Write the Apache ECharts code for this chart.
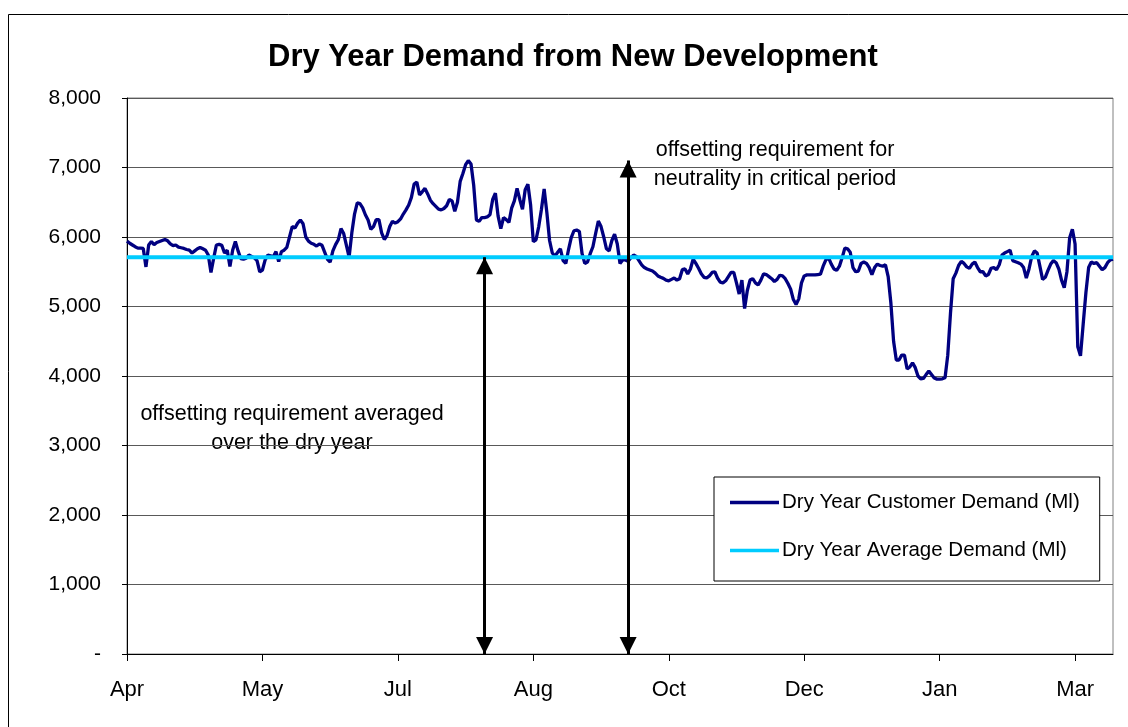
<!DOCTYPE html>
<html>
<head>
<meta charset="utf-8">
<title>Dry Year Demand from New Development</title>
<script src="https://cdn.jsdelivr.net/npm/echarts@6/dist/echarts.min.js"></script>
<style>
  html, body { margin: 0; padding: 0; background: #fff; }
  #myChart { width: 1128px; height: 727px; }
</style>
</head>
<body>
<div id="myChart"></div>
<script>
// x axis labels, one every 50 days counted from 1 April
const tickLabels = ['Apr', 'May', 'Jul', 'Aug', 'Oct', 'Dec', 'Jan', 'Mar']
// daily dry year customer demand (Ml)
const customerDemand = [
  5940, 5910, 5885, 5860, 5840, 5840, 5835, 5570, 5885, 5935,
  5890, 5920, 5935, 5950, 5965, 5945, 5900, 5875, 5885, 5855,
  5845, 5835, 5820, 5810, 5770, 5800, 5830, 5850, 5830, 5810,
  5740, 5490, 5695, 5885, 5895, 5880, 5770, 5810, 5575, 5810,
  5935, 5800, 5690, 5680, 5695, 5740, 5720, 5700, 5660, 5500,
  5525, 5670, 5740, 5730, 5715, 5790, 5645, 5790, 5810, 5850,
  6000, 6150, 6130, 6200, 6245, 6190, 6000, 5940, 5910, 5895,
  5870, 5900, 5880, 5780, 5680, 5640, 5800, 5890, 5960, 6120,
  6050, 5880, 5710, 6060, 6330, 6490, 6480, 6420, 6320, 6245,
  6110, 6150, 6250, 6250, 6060, 5965, 6020, 6150, 6225, 6200,
  6220, 6260, 6330, 6390, 6460, 6570, 6760, 6790, 6605, 6650,
  6700, 6620, 6530, 6480, 6440, 6400, 6390, 6410, 6450, 6540,
  6520, 6370, 6500, 6800, 6915, 7040, 7100, 7050, 6740, 6245,
  6225, 6280, 6280, 6290, 6320, 6540, 6630, 6300, 6120, 6280,
  6250, 6210, 6415, 6520, 6700, 6540, 6400, 6680, 6760, 6460,
  5935, 5960, 6150, 6400, 6690, 6350, 5950, 5770, 5725, 5780,
  5830, 5660, 5620, 5820, 5990, 6090, 6100, 6080, 5760, 5620,
  5640, 5760, 5860, 6050, 6230, 6150, 6000, 5830, 5800, 5950,
  6040, 5900, 5620, 5670, 5670, 5650, 5700, 5740, 5720, 5660,
  5600, 5560, 5540, 5525, 5510, 5480, 5440, 5420, 5405, 5380,
  5370, 5390, 5410, 5380, 5400, 5530, 5540, 5470, 5540, 5680,
  5620, 5550, 5470, 5420, 5410, 5440, 5490, 5500, 5410, 5350,
  5340, 5370, 5430, 5490, 5490, 5340, 5180, 5380, 4970, 5230,
  5380, 5400, 5340, 5310, 5380, 5470, 5460, 5430, 5400, 5360,
  5390, 5450, 5440, 5400, 5330, 5250, 5100, 5030, 5110, 5340,
  5440, 5455, 5455, 5455, 5455, 5460, 5465, 5580, 5670, 5700,
  5610, 5540, 5520, 5580, 5700, 5840, 5830, 5780, 5560, 5500,
  5510, 5620, 5640, 5620, 5560, 5460, 5560, 5610, 5590, 5580,
  5600, 5430, 5050, 4500, 4230, 4230, 4300, 4300, 4100, 4130,
  4190, 4120, 4000, 3960, 3965, 4020, 4070, 4020, 3970, 3955,
  3955, 3960, 3975, 4300, 4900, 5400, 5480, 5590, 5650, 5620,
  5570, 5550, 5610, 5640, 5560, 5500, 5500, 5440, 5460, 5550,
  5560, 5530, 5600, 5740, 5770, 5790, 5810, 5660, 5645, 5630,
  5610, 5560, 5410, 5540, 5720, 5800, 5770, 5580, 5390, 5420,
  5520, 5610, 5660, 5630, 5540, 5380, 5270, 5500, 5990, 6110,
  5900, 4420, 4290, 4750, 5200, 5560, 5640, 5620, 5630, 5580,
  5530, 5560, 5630, 5670, 5680
]
// dry year average demand (Ml)
const averageDemand = 5710
// the two double arrows: day they stand on and the value they reach up to
const arrowDays = [132, 185]
const arrowTops = [averageDemand, 7100]

const FONT = '"Liberation Sans", Arial, sans-serif'
const days = customerDemand.map((v, i) => i)

const myChart = echarts.init(document.getElementById('myChart'))
const option = {
  animation: false,
  title: {
    text: 'Dry Year Demand from New Development',
    left: 268,
    top: 42,
    padding: 0,
    textStyle: { fontFamily: FONT, fontSize: 31, fontWeight: 'bold', color: '#000' }
  },
  legend: {
    orient: 'vertical',
    left: 714,
    top: 477,
    padding: [15, 20, 20, 16],
    icon: 'rect',
    itemWidth: 49,
    itemHeight: 3.5,
    itemGap: 27,
    backgroundColor: '#fff',
    borderColor: '#000',
    borderWidth: 1,
    selectedMode: false,
    textStyle: { fontFamily: FONT, fontSize: 20.5, color: '#000', padding: [0, 0, 0, -2] },
    data: ['Dry Year Customer Demand (Ml)', 'Dry Year Average Demand (Ml)']
  },
  grid: {
    left: 127,
    right: 15,
    top: 98,
    bottom: 73,
    show: true,
    borderColor: '#808080',
    borderWidth: 1
  },
  xAxis: {
    type: 'category',
    data: days,
    boundaryGap: false,
    axisLine: { lineStyle: { color: '#000', width: 1 } },
    axisTick: { interval: 49, length: 7, lineStyle: { color: '#000' } },
    axisLabel: {
      interval: 49,
      margin: 25,
      fontFamily: FONT,
      fontSize: 22,
      color: '#000',
      formatter: (val, idx) => tickLabels[idx / 50] || ''
    },
    splitLine: { show: false }
  },
  yAxis: {
    type: 'value',
    min: 0,
    max: 8000,
    interval: 1000,
    axisLine: { show: true, lineStyle: { color: '#000', width: 1 } },
    axisTick: { show: true, length: 5, lineStyle: { color: '#000' } },
    axisLabel: {
      margin: 26,
      fontFamily: FONT,
      fontSize: 21,
      color: '#000',
      formatter: v => (v === 0 ? '-' : v.toLocaleString('en-GB'))
    },
    splitLine: { lineStyle: { color: '#595959', width: 1 } }
  },
  series: [
    {
      name: 'Dry Year Customer Demand (Ml)',
      type: 'line',
      data: customerDemand,
      symbol: 'none',
      lineStyle: { color: '#000080', width: 3.3 },
      itemStyle: { color: '#000080' },
      markLine: {
        silent: true,
        symbol: ['triangle', 'triangle'],
        symbolSize: 17,
        symbolOffset: [[0, '50%'], [0, '50%']],
        label: { show: false },
        lineStyle: { color: '#000', width: 3, type: 'solid' },
        data: arrowDays.map((d, i) => [
          { coord: [d, arrowTops[i]] },
          { coord: [d, 0] }
        ])
      }
    },
    {
      name: 'Dry Year Average Demand (Ml)',
      type: 'line',
      data: days.map(() => averageDemand),
      symbol: 'none',
      lineStyle: { color: '#00CCFF', width: 4 },
      itemStyle: { color: '#00CCFF' }
    }
  ],
  graphic: [
    {
      // outer chart frame
      type: 'rect',
      z: -10,
      shape: { x: 8.5, y: 14.5, width: 1200, height: 800 },
      style: { fill: null, stroke: '#000', lineWidth: 1 }
    },
    {
      type: 'text',
      x: 775,
      y: 133.5,
      style: {
        text: 'offsetting requirement for\nneutrality in critical period',
        font: '21.5px ' + FONT,
        fill: '#000',
        align: 'center',
        verticalAlign: 'top',
        lineHeight: 29,
        backgroundColor: '#fff',
        padding: [2, 14]
      }
    },
    {
      type: 'text',
      x: 292,
      y: 397.5,
      style: {
        text: 'offsetting requirement averaged\nover the dry year',
        font: '21.5px ' + FONT,
        fill: '#000',
        align: 'center',
        verticalAlign: 'top',
        lineHeight: 29,
        backgroundColor: '#fff',
        padding: [2, 8]
      }
    }
  ]
}
myChart.setOption(option)
window.addEventListener('resize', () => {
  myChart.resize()
})
</script>
</body>
</html>
